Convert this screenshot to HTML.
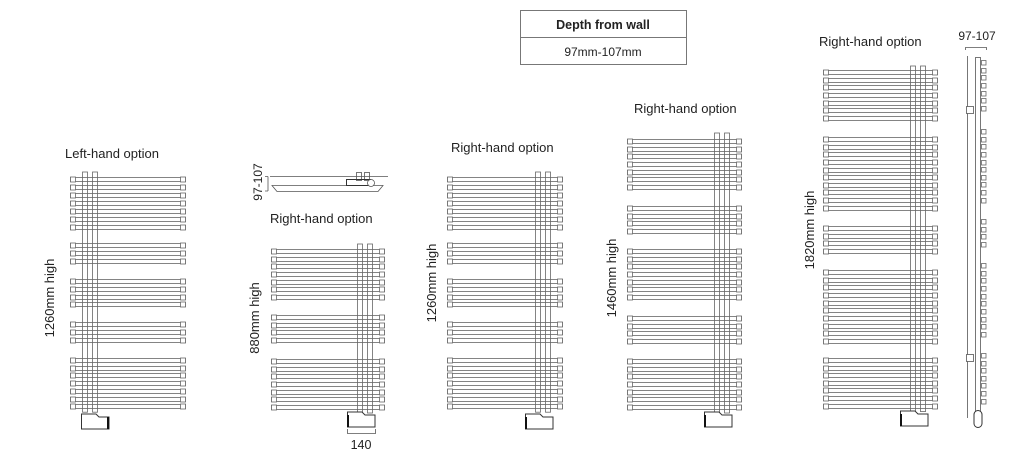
<!DOCTYPE html>
<html><head><meta charset="utf-8"><style>
html,body{margin:0;padding:0;background:#fff;}
svg{display:block}
text{font-family:"Liberation Sans",sans-serif;fill:#222}
</style></head><body>
<svg id="s" width="1024" height="450" viewBox="0 0 1024 450" xmlns="http://www.w3.org/2000/svg">
<rect x="520.5" y="10.5" width="166" height="54" fill="#fff" stroke="#777" stroke-width="1"/>
<line x1="520" y1="37.5" x2="686" y2="37.5" stroke="#777"/>
<text x="603" y="29" font-size="12.5" font-weight="bold" text-anchor="middle">Depth from wall</text>
<text x="603" y="56" font-size="12" text-anchor="middle">97mm-107mm</text>
<text x="65" y="158" font-size="13">Left-hand option</text>
<text x="270" y="223" font-size="13">Right-hand option</text>
<text x="451" y="152" font-size="13">Right-hand option</text>
<text x="634" y="113" font-size="13">Right-hand option</text>
<text x="819" y="46" font-size="13">Right-hand option</text>
<text transform="translate(54,298) rotate(-90)" font-size="13" text-anchor="middle">1260mm high</text>
<text transform="translate(259,318) rotate(-90)" font-size="13" text-anchor="middle">880mm high</text>
<text transform="translate(436,283) rotate(-90)" font-size="13" text-anchor="middle">1260mm high</text>
<text transform="translate(616,278) rotate(-90)" font-size="13" text-anchor="middle">1460mm high</text>
<text transform="translate(814,230) rotate(-90)" font-size="13" text-anchor="middle">1820mm high</text>
<path d="M347.5,429 V433.5 H375.5 V429" fill="none" stroke="#555" stroke-width="0.8"/>
<text x="361" y="449" font-size="12.5" text-anchor="middle">140</text>
<text transform="translate(262,182) rotate(-90)" font-size="12" text-anchor="middle">97-107</text>
<path d="M268,176.5 V191 M265,176.5 H268 M265,191 H268" fill="none" stroke="#555" stroke-width="0.8"/>
<line x1="270" y1="176.5" x2="388" y2="176.5" stroke="#555" stroke-width="0.8"/>
<path d="M272,185.5 H383 L378,191.5 H277 Z" fill="none" stroke="#555" stroke-width="0.8"/>
<rect x="356.5" y="172.5" width="5" height="8" fill="none" stroke="#555" stroke-width="0.8"/>
<rect x="364.5" y="172.5" width="5" height="8" fill="none" stroke="#555" stroke-width="0.8"/>
<rect x="346.5" y="179.5" width="24" height="6" fill="none" stroke="#333" stroke-width="1"/>
<circle cx="371" cy="183" r="3.5" fill="#fff" stroke="#555" stroke-width="0.8"/>
<text x="977" y="40" font-size="12" text-anchor="middle">97-107</text>
<path d="M965.5,50 V47.5 H986.5 V50" fill="none" stroke="#555" stroke-width="0.8"/>
<line x1="967.5" y1="56" x2="967.5" y2="418" stroke="#555" stroke-width="0.8"/>
<rect x="975.5" y="57.5" width="5" height="362" fill="none" stroke="#555" stroke-width="0.8"/>
<rect x="966.5" y="106.5" width="7" height="7" fill="#fff" stroke="#555" stroke-width="0.8"/>
<rect x="966.5" y="354.5" width="7" height="7" fill="#fff" stroke="#555" stroke-width="0.8"/>
<rect x="974" y="410.5" width="8" height="17" rx="4" fill="#fff" stroke="#333" stroke-width="1"/>
<g id="g"></g>
</svg>
<script>
var g=document.getElementById('g'),h='';
var st='fill="#fff" stroke="#666" stroke-width="0.8"';
function grp(y0,n,p){var a=[];for(var i=0;i<n;i++)a.push(y0+i*p);return a;}
function rad(L,R,left,bars,capTop,valveY){
  var t1=left?L+12:R-27, t2=t1+10;
  var bot=bars[bars.length-1];
  h+='<rect x="'+(t1+.5)+'" y="'+capTop+'" width="5" height="'+(bot+8-capTop)+'" '+st+'/>';
  h+='<rect x="'+(t2+.5)+'" y="'+capTop+'" width="5" height="'+(bot+8-capTop)+'" '+st+'/>';
  bars.forEach(function(y){
    y=Math.round(y)+.5;
    h+='<rect x="'+(L+.5)+'" y="'+y+'" width="'+(R-L)+'" height="4" fill="none" stroke="#666" stroke-width="0.8"/>';
    h+='<rect x="'+(L+.5)+'" y="'+(y-.5)+'" width="5" height="5" '+st+'/>';
    h+='<rect x="'+(R-4.5)+'" y="'+(y-.5)+'" width="5" height="5" '+st+'/>';
  });
  var v1=left?L+11:R-37;
  h+='<path d="M'+(v1+.5)+','+(valveY+3)+' V'+(valveY+15)+' H'+(v1+28)+' V'+(valveY+3)+' H'+(v1+18)+' L'+(v1+15)+','+valveY+' H'+(v1+.5)+' Z" fill="#fff" stroke="#333" stroke-width="1"/>';
  var ex=left?v1+27:v1+1;
  h+='<line x1="'+ex+'" y1="'+(valveY+3)+'" x2="'+ex+'" y2="'+(valveY+15)+'" stroke="#111" stroke-width="2"/>';
}
var b1260=[].concat(grp(177,7,8),grp(243,3,8),grp(279,4,7.8),grp(322,3,8),grp(358,7,7.7));
rad(70,185,true,b1260,172,414);
rad(271,384,false,[].concat(grp(249,7,7.67),grp(315,4,7.67),grp(359,7,7.67)),244,412);
rad(447,562,false,b1260,172,414);
rad(627,741,false,[].concat(grp(139,7,7.67),grp(206,4,7.67),grp(249,7,7.67),grp(316,4,7.67),grp(359,7,7.67)),133,412);
rad(823,937,false,[].concat(grp(70,7,7.67),grp(137,10,7.63),grp(226,4,7.67),grp(270,10,7.67),grp(358,7,7.6)),66,411);
var sv=[].concat(grp(60,7,7.67),grp(129,10,7.63),grp(219,4,7.67),grp(263,10,7.67),grp(353,7,7.6));
sv.forEach(function(y){h+='<rect x="981.5" y="'+(Math.round(y)+.5)+'" width="4.5" height="4.5" '+st+'/>';});
g.innerHTML=h;
</script>
</body></html>
